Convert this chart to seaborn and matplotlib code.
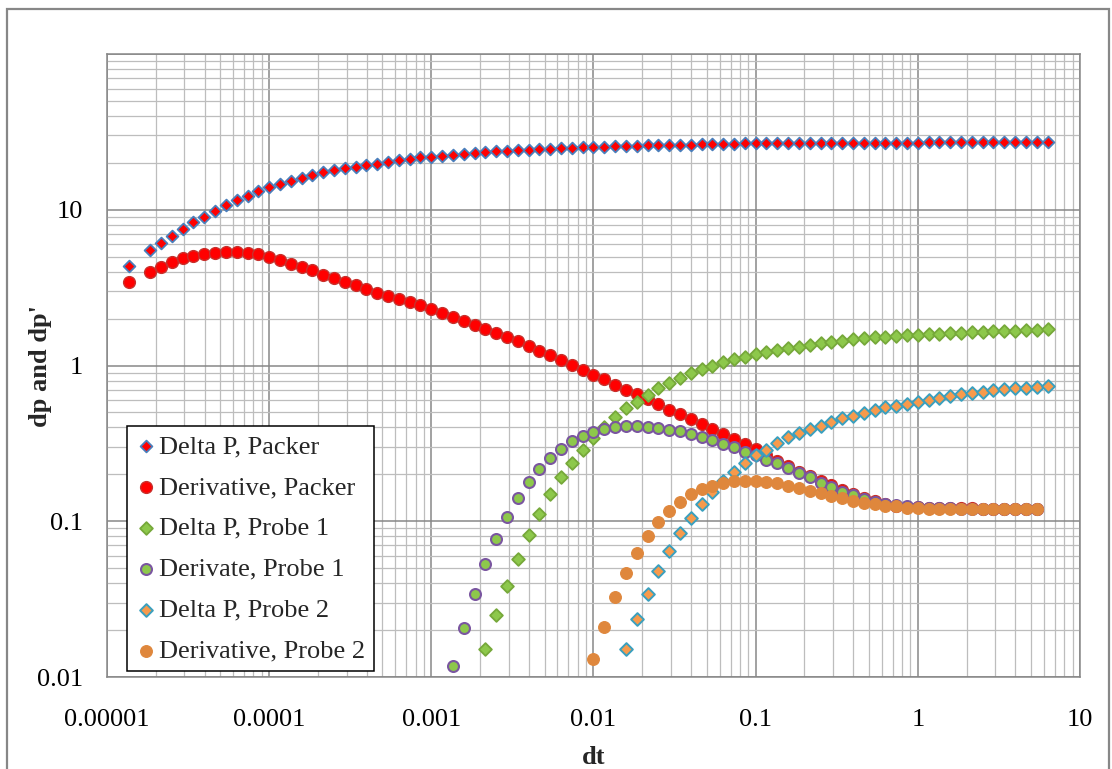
import matplotlib
matplotlib.use("Agg")
import matplotlib.pyplot as plt
from matplotlib.patches import Rectangle
from matplotlib.ticker import FixedLocator, LogLocator, NullFormatter
import seaborn as sns

# Elapsed time (shared time base for all gauges)
dt = [
    1.359e-5,
    1.848e-5, 2.154e-5, 2.512e-5, 2.929e-5, 3.415e-5, 3.981e-5, 4.642e-5, 5.412e-5, 6.310e-5, 7.356e-5, 8.577e-5,
    1.000e-4, 1.166e-4, 1.359e-4, 1.585e-4, 1.848e-4, 2.154e-4, 2.512e-4, 2.929e-4, 3.415e-4, 3.981e-4, 4.642e-4, 5.412e-4, 6.310e-4, 7.356e-4, 8.577e-4,
    1.000e-3, 1.166e-3, 1.359e-3, 1.585e-3, 1.848e-3, 2.154e-3, 2.512e-3, 2.929e-3, 3.415e-3, 3.981e-3, 4.642e-3, 5.412e-3, 6.310e-3, 7.356e-3, 8.577e-3,
    1.000e-2, 1.166e-2, 1.359e-2, 1.585e-2, 1.848e-2, 2.154e-2, 2.512e-2, 2.929e-2, 3.415e-2, 3.981e-2, 4.642e-2, 5.412e-2, 6.310e-2, 7.356e-2, 8.577e-2,
    0.1000, 0.1166, 0.1359, 0.1585, 0.1848, 0.2154, 0.2512, 0.2929, 0.3415, 0.3981, 0.4642, 0.5412, 0.6310, 0.7356, 0.8577,
    1.000, 1.166, 1.359, 1.585, 1.848, 2.154, 2.512, 2.929, 3.415, 3.981, 4.642, 5.412, 6.310,
]

# Packer gauge: pressure change and derivative
dp_packer = [
    4.33,
    5.52, 6.09, 6.75, 7.52, 8.30, 9.03, 9.86, 10.73, 11.49, 12.31, 13.19,
    13.93, 14.70, 15.40, 16.05, 16.71, 17.39, 17.9, 18.4, 18.9, 19.3, 19.7, 20.4, 20.9, 21.3, 21.7,
    21.9, 22.2, 22.6, 22.8, 23.0, 23.4, 23.7, 23.9, 24.2, 24.3, 24.5, 24.7, 24.9, 25.0, 25.2,
    25.3, 25.4, 25.5, 25.7, 25.8, 25.9, 26.0, 26.05, 26.15, 26.2, 26.3, 26.35, 26.45, 26.55, 26.65,
    26.7, 26.75, 26.75, 26.8, 26.8, 26.85, 26.85, 26.9, 26.9, 26.9, 26.95, 26.95, 27.0, 27.0, 27.0,
    27.0, 27.05, 27.05, 27.05, 27.1, 27.1, 27.1, 27.1, 27.1, 27.15, 27.15, 27.15, 27.15,
]
der_packer = [
    3.42,
    4.00, 4.31, 4.60, 4.88, 5.07, 5.18, 5.25, 5.33, 5.33, 5.25, 5.18,
    4.95, 4.76, 4.50, 4.29, 4.09, 3.83, 3.62, 3.45, 3.27, 3.10, 2.93, 2.81, 2.67, 2.56, 2.45,
    2.31, 2.17, 2.04, 1.93, 1.82, 1.72, 1.62, 1.52, 1.43, 1.33, 1.245, 1.168, 1.089, 1.005, 0.94,
    0.875, 0.814, 0.754, 0.70, 0.656, 0.607, 0.562, 0.52, 0.485, 0.451, 0.419, 0.392, 0.363, 0.337, 0.313,
    0.29, 0.265, 0.245, 0.226, 0.208, 0.195, 0.182, 0.170, 0.159, 0.150, 0.141, 0.134, 0.130, 0.126, 0.124,
    0.123, 0.122, 0.122, 0.121, 0.121, 0.121, 0.120, 0.120, 0.120, 0.120, 0.120, 0.120,
]

# Observation probe 1
dp_probe1 = [
    0.01506, 0.0249, 0.0386, 0.0572, 0.0812, 0.1108, 0.1496, 0.1924, 0.2376, 0.2868,
    0.3409, 0.4046, 0.469, 0.531, 0.586, 0.647, 0.714, 0.769, 0.828, 0.891, 0.945, 0.993, 1.053, 1.096, 1.129,
    1.185, 1.215, 1.257, 1.289, 1.320, 1.360, 1.388, 1.416, 1.443, 1.473, 1.495, 1.517, 1.531, 1.547, 1.563,
    1.577, 1.593, 1.600, 1.609, 1.624, 1.633, 1.648, 1.658, 1.665, 1.672, 1.682, 1.690, 1.707,
]
der_probe1 = [
    0.0118, 0.0206, 0.0341, 0.0531, 0.0773, 0.1065, 0.141, 0.178, 0.2157, 0.2548, 0.2897, 0.326, 0.3527,
    0.374, 0.393, 0.403, 0.409, 0.409, 0.405, 0.397, 0.387, 0.378, 0.363, 0.349, 0.332, 0.315, 0.298, 0.280,
    0.265, 0.247, 0.235, 0.219, 0.203, 0.1915, 0.177, 0.165, 0.155, 0.147, 0.139, 0.132, 0.129, 0.1265, 0.1245,
    0.123, 0.122, 0.121, 0.121, 0.120, 0.120, 0.120, 0.120, 0.120, 0.120, 0.120, 0.120,
]

# Observation probe 2
dp_probe2 = [
    0.01513, 0.02348, 0.03425, 0.0479, 0.0644, 0.0837, 0.105, 0.129, 0.1534, 0.182, 0.208, 0.2355,
    0.265, 0.2868, 0.3166, 0.3459, 0.3671, 0.3894, 0.4108, 0.4318, 0.4581, 0.4759, 0.4931, 0.5177, 0.5387, 0.5517, 0.5657,
    0.5828, 0.6029, 0.6211, 0.6369, 0.6530, 0.6627, 0.6757, 0.6928, 0.7031, 0.7135, 0.7200, 0.7307, 0.7415,
]
der_probe2 = [
    0.01311, 0.02104, 0.0328, 0.0467, 0.0628, 0.0808, 0.0993, 0.1169, 0.1335, 0.1489, 0.1604, 0.1684, 0.1768, 0.1805, 0.1813,
    0.181, 0.178, 0.1755, 0.1684, 0.1628, 0.157, 0.1512, 0.1453, 0.1405, 0.1355, 0.1316, 0.1285, 0.126, 0.1245, 0.1222,
    0.1212, 0.1205, 0.120, 0.120, 0.120, 0.1198, 0.1198, 0.1198, 0.1198, 0.1198, 0.1198, 0.1198,
]

# First sample of each record within dt
start_packer = 0
start_probe1_dp = 32
start_probe1_der = 29
start_probe2_dp = 45
start_probe2_der = 42

series_names = [
    "Delta P, Packer", "Derivative, Packer",
    "Delta P, Probe 1", "Derivate, Probe 1",
    "Delta P, Probe 2", "Derivative, Probe 2",
]

x_ticks = [1e-5, 1e-4, 1e-3, 1e-2, 1e-1, 1, 10]
x_tick_labels = ["0.00001", "0.0001", "0.001", "0.01", "0.1", "1", "10"]
y_ticks = [0.01, 0.1, 1, 10, 100]
y_tick_labels = ["0.01", "0.1", "1", "10", ""]

sns.set_style("white")
plt.rcParams["font.family"] = ["Liberation Serif", "DejaVu Serif"]

FS = 19

fig = plt.figure(figsize=(11.12, 7.69), dpi=100)
ax = fig.add_axes([0.0962, 0.1196, 0.875, 0.8102])

styles = [
    dict(data=(start_packer, dp_packer), marker="D", s=36, color="#ff0000", edgecolor="#4a7ebb", linewidth=1.3),
    dict(data=(start_packer, der_packer), marker="o", s=72, color="#ff0000", edgecolor="#c8302c", linewidth=1.0),
    dict(data=(start_probe1_dp, dp_probe1), marker="D", s=42, color="#8dc84b", edgecolor="#76a83a", linewidth=1.3),
    dict(data=(start_probe1_der, der_probe1), marker="o", s=62, color="#8dc84b", edgecolor="#7a56a0", linewidth=1.5),
    dict(data=(start_probe2_dp, dp_probe2), marker="D", s=42, color="#f79a4c", edgecolor="#3aa0bf", linewidth=1.4),
    dict(data=(start_probe2_der, der_probe2), marker="o", s=72, color="#df873c", edgecolor="#df873c", linewidth=0.8),
]

for name, st in zip(series_names, styles):
    start, values = st["data"]
    xs = dt[start:start + len(values)]
    sns.scatterplot(
        x=xs, y=values, ax=ax, marker=st["marker"], s=st["s"],
        color=st["color"], edgecolor=st["edgecolor"], linewidth=st["linewidth"],
        label=name, zorder=3,
    )

ax.set_xscale("log")
ax.set_yscale("log")
ax.set_xlim(1e-5, 10)
ax.set_ylim(0.01, 100)

ax.xaxis.set_major_locator(FixedLocator(x_ticks))
ax.set_xticklabels(x_tick_labels)
ax.yaxis.set_major_locator(FixedLocator(y_ticks))
ax.set_yticklabels(y_tick_labels)
ax.xaxis.set_minor_locator(LogLocator(base=10, subs=range(2, 10), numticks=20))
ax.yaxis.set_minor_locator(LogLocator(base=10, subs=range(2, 10), numticks=20))
ax.xaxis.set_minor_formatter(NullFormatter())
ax.yaxis.set_minor_formatter(NullFormatter())

ax.tick_params(axis="both", which="both", length=0, labelsize=FS, colors="black")
ax.tick_params(axis="x", which="major", pad=23)
ax.tick_params(axis="y", which="major", pad=17)

ax.set_axisbelow(True)
ax.grid(True, which="major", color="#878787", linewidth=1.1)
ax.grid(True, which="minor", color="#bdbdbd", linewidth=0.9)
for sp in ax.spines.values():
    sp.set_color("#878787")
    sp.set_linewidth(1.1)

ax.set_xlabel("dt", fontsize=FS, fontweight="bold")
ax.set_ylabel("dp and dp'", fontsize=FS, fontweight="bold")
ax.xaxis.set_label_coords(0.5, -0.11)
ax.yaxis.set_label_coords(-0.056, 0.5)

leg = ax.legend(
    loc="lower left", bbox_to_anchor=(0.0206, 0.0096), borderaxespad=0,
    fontsize=FS, frameon=True, fancybox=False, edgecolor="black",
    framealpha=1, handlelength=0.78, handletextpad=0.12, borderpad=0.32,
    labelspacing=0.66, markerscale=1.0,
)
leg.get_frame().set_linewidth(1.1)

# Outer chart border
fig.add_artist(Rectangle((7 / 1112, -0.02), 1102 / 1112, 1.02 - 9 / 769,
                         transform=fig.transFigure, fill=False,
                         edgecolor="#878787", linewidth=1.6, clip_on=False))

fig.savefig("out.png", dpi=100)
